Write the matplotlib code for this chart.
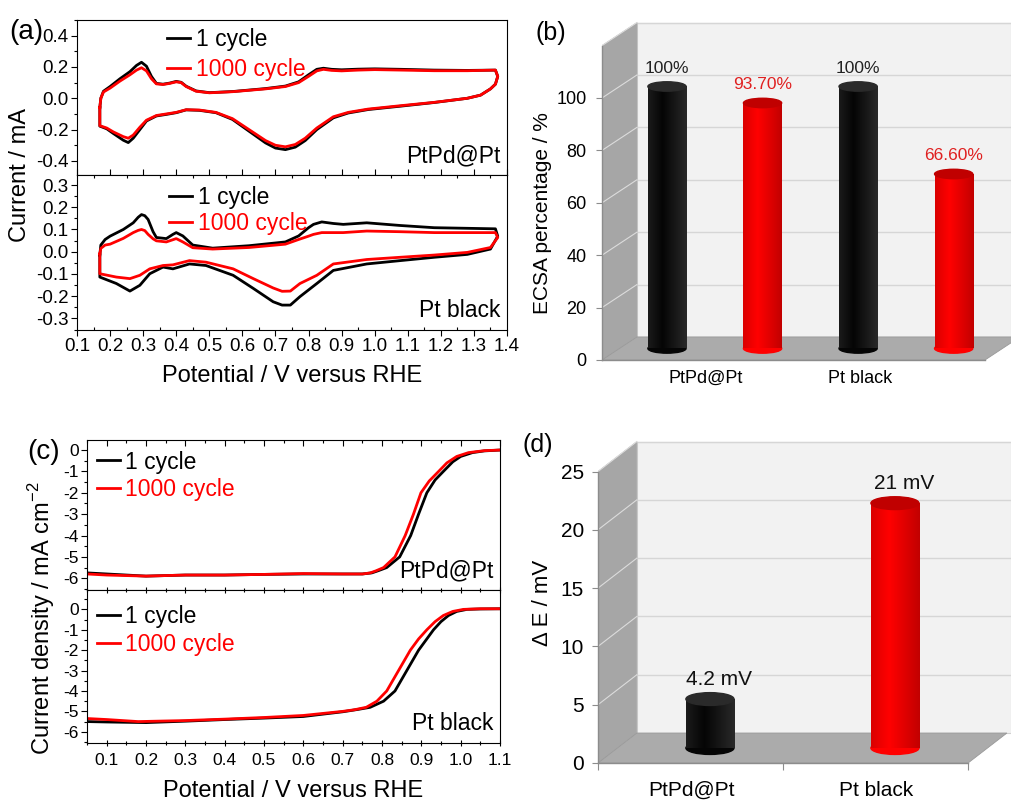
import numpy as np
import matplotlib
matplotlib.use("Agg")
import matplotlib.pyplot as plt
from matplotlib.patches import Ellipse, Polygon
from matplotlib.ticker import MultipleLocator, FormatStrFormatter

plt.rcParams['font.family'] = ['Liberation Sans', 'DejaVu Sans']
plt.rcParams['axes.unicode_minus'] = False
plt.rcParams['mathtext.fontset'] = 'custom'
plt.rcParams['mathtext.rm'] = 'Liberation Sans'

RED = '#ff0000'

# ---------------- (a) cyclic voltammetry ----------------
# PtPd@Pt
cv1_E_up = [0.169, 0.172, 0.18, 0.20, 0.23, 0.26, 0.28, 0.295, 0.31, 0.325, 0.34, 0.36, 0.38, 0.40, 0.415,
            0.43, 0.46, 0.50, 0.57, 0.67, 0.73, 0.77, 0.80, 0.825, 0.845, 0.87, 0.90, 0.95, 1.00, 1.08,
            1.18, 1.28, 1.365, 1.372]
cv1_black_up = [-0.06, 0.0, 0.045, 0.075, 0.125, 0.17, 0.21, 0.23, 0.205, 0.14, 0.095, 0.09, 0.097, 0.108, 0.102,
                0.077, 0.047, 0.036, 0.043, 0.062, 0.078, 0.105, 0.15, 0.185, 0.192, 0.185, 0.182, 0.186, 0.188, 0.185,
                0.18, 0.178, 0.18, 0.14]
cv1_red_up = [-0.06, 0.0, 0.04, 0.065, 0.11, 0.15, 0.18, 0.195, 0.175, 0.125, 0.092, 0.088, 0.095, 0.105, 0.1,
              0.075, 0.045, 0.035, 0.042, 0.06, 0.075, 0.1, 0.14, 0.175, 0.185, 0.178, 0.175, 0.18, 0.183, 0.18,
              0.176, 0.176, 0.18, 0.14]
cv1_E_dn = [1.372, 1.365, 1.35, 1.32, 1.28, 1.18, 1.08, 0.98, 0.92, 0.875, 0.825, 0.79, 0.76, 0.73, 0.70,
            0.67, 0.62, 0.57, 0.52, 0.47, 0.43, 0.40, 0.37, 0.34, 0.31, 0.29, 0.27, 0.255, 0.24, 0.21,
            0.19, 0.169, 0.169]
cv1_black_dn = [0.14, 0.09, 0.06, 0.02, 0.0, -0.027, -0.05, -0.072, -0.094, -0.125, -0.2, -0.27, -0.312, -0.328, -0.318,
                -0.285, -0.21, -0.135, -0.092, -0.077, -0.074, -0.092, -0.103, -0.113, -0.145, -0.2, -0.255, -0.283, -0.268, -0.225,
                -0.195, -0.178, -0.06]
cv1_red_dn = [0.14, 0.09, 0.06, 0.02, 0.0, -0.026, -0.047, -0.069, -0.09, -0.118, -0.19, -0.255, -0.295, -0.31, -0.3,
              -0.27, -0.2, -0.13, -0.09, -0.075, -0.073, -0.09, -0.1, -0.11, -0.14, -0.185, -0.235, -0.255, -0.245, -0.215,
              -0.19, -0.175, -0.06]

# Pt black
cv2_E_up = [0.169, 0.172, 0.185, 0.20, 0.24, 0.27, 0.285, 0.295, 0.305, 0.315, 0.33, 0.34, 0.37, 0.39, 0.40, 0.42, 0.45, 0.51, 0.62,
            0.73, 0.77, 0.80, 0.815, 0.84, 0.875, 0.905, 0.976, 1.077, 1.18, 1.365, 1.372]
cv2_black_up = [-0.015, 0.03, 0.055, 0.07, 0.1, 0.13, 0.155, 0.167, 0.162, 0.145, 0.09, 0.064, 0.059, 0.078, 0.086, 0.071, 0.03, 0.016, 0.027,
                0.044, 0.071, 0.108, 0.123, 0.134, 0.127, 0.123, 0.13, 0.118, 0.108, 0.103, 0.07]
cv2_red_up = [-0.01, 0.015, 0.03, 0.034, 0.06, 0.086, 0.096, 0.1, 0.095, 0.078, 0.058, 0.049, 0.044, 0.054, 0.059, 0.044, 0.018, 0.012, 0.019,
              0.034, 0.055, 0.07, 0.078, 0.086, 0.086, 0.086, 0.093, 0.09, 0.086, 0.086, 0.064]
cv2_E_dn = [1.372, 1.35, 1.28, 1.18, 1.077, 0.976, 0.875, 0.825, 0.774, 0.745, 0.72, 0.693, 0.633, 0.572, 0.49,
            0.44, 0.39, 0.36, 0.32, 0.29, 0.26, 0.219, 0.169, 0.169]
cv2_black_dn = [0.07, 0.012, -0.012, -0.025, -0.04, -0.055, -0.084, -0.143, -0.202, -0.24, -0.24, -0.225, -0.165, -0.106, -0.062,
                -0.055, -0.077, -0.069, -0.099, -0.151, -0.177, -0.143, -0.114, -0.015]
cv2_red_dn = [0.064, 0.019, -0.003, -0.015, -0.025, -0.035, -0.055, -0.106, -0.143, -0.177, -0.178, -0.163, -0.121, -0.077, -0.047,
              -0.04, -0.059, -0.062, -0.077, -0.106, -0.121, -0.114, -0.099, -0.01]

# ---------------- (b) ECSA retention ----------------
ecsa_cats = ['PtPd@Pt', 'Pt black']
ecsa_1 = [100, 100]
ecsa_1000 = [93.7, 66.6]
ecsa_1_txt = ['100%', '100%']
ecsa_1000_txt = ['93.70%', '66.60%']

# ---------------- (c) ORR polarisation ----------------
lsv1_E_black = [0.05, 0.1, 0.2, 0.3, 0.4, 0.5, 0.6, 0.7, 0.75, 0.774, 0.79, 0.812, 0.845, 0.873, 0.893, 0.914,
                0.935, 0.956, 0.98, 1.0, 1.03, 1.06, 1.1]
lsv1_j_black = [-5.75, -5.8, -5.9, -5.85, -5.85, -5.82, -5.8, -5.8, -5.8, -5.75, -5.65, -5.5, -5.0, -4.0, -3.0, -2.0,
                -1.4, -1.0, -0.55, -0.3, -0.12, -0.04, 0.0]
lsv1_E_red = [0.05, 0.1, 0.2, 0.3, 0.4, 0.5, 0.6, 0.7, 0.75, 0.77, 0.785, 0.804, 0.833, 0.859, 0.88, 0.899,
              0.92, 0.944, 0.965, 0.99, 1.02, 1.06, 1.1]
lsv1_j_red = [-5.8, -5.85, -5.9, -5.85, -5.85, -5.82, -5.78, -5.8, -5.8, -5.75, -5.65, -5.5, -5.0, -4.0, -3.0, -2.0,
              -1.45, -1.0, -0.6, -0.3, -0.12, -0.03, 0.0]
lsv2_E_black = [0.05, 0.1, 0.2, 0.3, 0.4, 0.5, 0.6, 0.7, 0.74, 0.77, 0.804, 0.833, 0.863, 0.893, 0.912, 0.931,
                0.95, 0.969, 0.99, 1.016, 1.05, 1.1]
lsv2_j_black = [-5.5, -5.52, -5.55, -5.48, -5.4, -5.33, -5.25, -5.02, -4.9, -4.8, -4.5, -4.0, -3.0, -2.0, -1.5, -1.0,
                -0.6, -0.3, -0.1, 0.0, 0.02, 0.03]
lsv2_E_red = [0.05, 0.1, 0.18, 0.3, 0.4, 0.5, 0.6, 0.7, 0.73, 0.76, 0.787, 0.812, 0.842, 0.872, 0.893, 0.914,
              0.935, 0.956, 0.98, 1.007, 1.05, 1.1]
lsv2_j_red = [-5.35, -5.4, -5.5, -5.45, -5.38, -5.3, -5.2, -5.0, -4.92, -4.8, -4.5, -4.0, -3.0, -2.0, -1.45, -1.0,
              -0.6, -0.3, -0.1, 0.0, 0.03, 0.03]

# ---------------- (d) half-wave potential loss ----------------
dE_cats = ['PtPd@Pt', 'Pt black']
dE_vals = [4.2, 21]
dE_txt = ['4.2 mV', '21 mV']


fig = plt.figure(figsize=(10.11, 8.01), dpi=100)
W, H = 1011.0, 801.0


def px_axes(l, t, r, b):
    return fig.add_axes([l / W, 1 - b / H, (r - l) / W, (b - t) / H])


def cv_panel(ax, E_up, up_b, up_r, E_dn, dn_b, dn_r, ylim, major, minor, name):
    ax.plot(E_up + E_dn, up_b + dn_b, color='black', lw=2.0, solid_joinstyle='round')
    ax.plot(E_up + E_dn, up_r + dn_r, color=RED, lw=2.0, solid_joinstyle='round')
    ax.set_xlim(0.1, 1.4)
    ax.set_ylim(*ylim)
    ax.xaxis.set_major_locator(MultipleLocator(0.1))
    ax.xaxis.set_minor_locator(MultipleLocator(0.05))
    ax.yaxis.set_major_locator(MultipleLocator(major))
    ax.yaxis.set_minor_locator(MultipleLocator(minor))
    ax.yaxis.set_major_formatter(FormatStrFormatter('%.1f'))
    ax.xaxis.set_major_formatter(FormatStrFormatter('%.1f'))
    ax.tick_params(which='both', direction='out', width=0.8, labelsize=13.5, pad=2)
    ax.tick_params(which='major', length=4)
    ax.tick_params(which='minor', length=2.5)
    ax.text(0.985, 0.05, name, transform=ax.transAxes, ha='right', va='bottom', fontsize=16.5)


# (a)
ax_a1 = px_axes(77, 20, 507, 175)
ax_a2 = px_axes(77, 175, 507, 330)
cv_panel(ax_a1, cv1_E_up, cv1_black_up, cv1_red_up, cv1_E_dn, cv1_black_dn, cv1_red_dn,
         (-0.49, 0.5), 0.2, 0.1, 'PtPd@Pt')
cv_panel(ax_a2, cv2_E_up, cv2_black_up, cv2_red_up, cv2_E_dn, cv2_black_dn, cv2_red_dn,
         (-0.352, 0.345), 0.1, 0.05, 'Pt black')
ax_a1.tick_params(axis='x', which='both', bottom=False, labelbottom=False)
ax_a2.tick_params(axis='x', which='both', top=True, direction='in')
ax_a2.tick_params(axis='x', which='major', direction='out')
ax_a1.legend(['1 cycle', '1000 cycle'], loc='upper left', bbox_to_anchor=(0.21, 0.95),
             frameon=False, fontsize=16.5, handlelength=1.0, handletextpad=0.25,
             labelspacing=0.3, borderpad=0, borderaxespad=0, labelcolor='linecolor')
ax_a2.legend(['1 cycle', '1000 cycle'], loc='upper left', bbox_to_anchor=(0.215, 0.93),
             frameon=False, fontsize=16.5, handlelength=1.0, handletextpad=0.25,
             labelspacing=0.12, borderpad=0, borderaxespad=0, labelcolor='linecolor')
ax_a2.set_xlabel('Potential / V versus RHE', fontsize=17, labelpad=7)
fig.text(20 / W, 1 - 175 / H, 'Current / mA', rotation=90, ha='center', va='center', fontsize=17)
fig.text(26 / W, 1 - 32 / H, '(a)', ha='center', va='center', fontsize=20)


# (c)
def lsv_panel(ax, Eb, jb, Er, jr, ylim, name, legend_top):
    ax.plot(Eb, jb, color='black', lw=2.0)
    ax.plot(Er, jr, color=RED, lw=2.0)
    ax.set_xlim(0.05, 1.1)
    ax.set_ylim(*ylim)
    ax.xaxis.set_major_locator(MultipleLocator(0.1))
    ax.xaxis.set_minor_locator(MultipleLocator(0.05))
    ax.yaxis.set_major_locator(MultipleLocator(1))
    ax.yaxis.set_minor_locator(MultipleLocator(0.5))
    ax.yaxis.set_major_formatter(FormatStrFormatter('%d'))
    ax.xaxis.set_major_formatter(FormatStrFormatter('%.1f'))
    ax.tick_params(which='both', direction='out', width=0.8, labelsize=12.5, pad=2)
    ax.tick_params(axis='x', which='both', top=True, direction='in')
    ax.tick_params(which='major', length=4)
    ax.tick_params(which='minor', length=2.5)
    ax.legend(['1 cycle', '1000 cycle'], loc='upper left', bbox_to_anchor=(0.025, legend_top),
              frameon=False, fontsize=16.5, handlelength=1.0, handletextpad=0.2,
              labelspacing=0.2, borderpad=0, borderaxespad=0, labelcolor='linecolor')
    ax.text(0.985, 0.05, name, transform=ax.transAxes, ha='right', va='bottom', fontsize=16.5)


ax_c1 = px_axes(87, 440, 500, 590)
ax_c2 = px_axes(87, 590, 500, 743)
lsv_panel(ax_c1, lsv1_E_black, lsv1_j_black, lsv1_E_red, lsv1_j_red, (-6.55, 0.47), 'PtPd@Pt', 0.93)
lsv_panel(ax_c2, lsv2_E_black, lsv2_j_black, lsv2_E_red, lsv2_j_red, (-6.55, 0.95), 'Pt black', 0.9)
ax_c1.tick_params(axis='x', which='both', bottom=False, labelbottom=False)
ax_c2.tick_params(axis='x', which='both', bottom=True)
ax_c2.xaxis.set_tick_params(which='both', direction='inout')
ax_c2.tick_params(axis='x', pad=5)
ax_c2.set_xlabel('Potential / V versus RHE', fontsize=17, labelpad=9)
fig.text(42 / W, 1 - 618 / H, 'Current density / mA cm$^{-2}$', rotation=90, ha='center', va='center',
         fontsize=17)
fig.text(44 / W, 1 - 452 / H, '(c)', ha='center', va='center', fontsize=20)


# pseudo-3D cylinder bars for (b) and (d)
def bars_3d(ax, xs, vals, colors, caps, width, dx, dy, wall_top, step, x_floor, cap_h):
    x0, xr = ax.get_xlim()
    ax.add_patch(Polygon([(x0 + dx, dy), (xr, dy), (xr, wall_top + dy), (x0 + dx, wall_top + dy)],
                         closed=True, fc='#f2f2f2', ec='#d0d0d0', lw=0.8, zorder=0.2))
    for v in np.arange(step, wall_top + step / 2, step):
        ax.plot([x0 + dx, xr], [v + dy, v + dy], color='#d6d6d6', lw=1.0, zorder=0.5)
    ax.add_patch(Polygon([(x0, 0), (x0, wall_top), (x0 + dx, wall_top + dy), (x0 + dx, dy)],
                         closed=True, fc='#a6a6a6', ec='#a6a6a6', lw=0.5, zorder=1))
    for v in np.arange(step, wall_top + step / 2, step):
        ax.plot([x0, x0 + dx], [v, v + dy], color='#dcdcdc', lw=0.8, zorder=1.5)
    ax.add_patch(Polygon([(x0, 0), (x_floor, 0), (x_floor + dx, dy), (x0 + dx, dy)],
                         closed=True, fc='#ababab', ec='#999999', lw=0.6, zorder=1))
    bars = ax.bar(xs, vals, width, bottom=dy / 2, color=colors, zorder=3)
    grad = np.abs(np.linspace(-1, 1, 64) + 0.25).reshape(1, -1)
    for b, x, v, c, cc in zip(bars, xs, vals, colors, caps):
        ax.add_patch(Ellipse((x, dy / 2), width, cap_h, color=c, zorder=3))
        cmap = matplotlib.colors.LinearSegmentedColormap.from_list('cyl', [c, cc])
        im = ax.imshow(grad, extent=(x - width / 2, x + width / 2, dy / 2, dy / 2 + v), cmap=cmap,
                       aspect='auto', zorder=3.2, vmin=0, vmax=1.3)
        im.set_clip_path(b)
        ax.add_patch(Ellipse((x, dy / 2 + v), width, cap_h, color=cc, zorder=4))
    ax.set_xlim(x0, xr)
    ax.spines['top'].set_visible(False)
    ax.spines['right'].set_visible(False)
    ax.spines['left'].set_bounds(0, wall_top)
    ax.spines['bottom'].set_bounds(x0, x_floor)
    for s in ('left', 'bottom'):
        ax.spines[s].set_color('#8c8c8c')
        ax.spines[s].set_linewidth(1.0)
    ax.set_facecolor('none')


# (b)
ax_b = px_axes(602, 10, 1011, 360)
ax_b.set_xlim(-0.59, 1.55)
ax_b.set_ylim(0, 350 / 2.62)
grp = np.arange(len(ecsa_cats))
xs_b = np.ravel(np.column_stack([grp - 0.25, grp + 0.25]))
vals_b = np.ravel(np.column_stack([ecsa_1, ecsa_1000]))
txt_b = np.ravel(np.column_stack([ecsa_1_txt, ecsa_1000_txt]))
cols_b = ['#050505', RED] * len(ecsa_cats)
caps_b = ['#2a2a2a', '#c00000'] * len(ecsa_cats)
bars_3d(ax_b, xs_b, vals_b, cols_b, caps_b, 0.2, 0.183, 8.8, 120, 20, 1.414, 3.6)
for x, v, t, c in zip(xs_b, vals_b, txt_b, cols_b):
    ax_b.text(x, v + 8.8 / 2 + 4.0, t, ha='center', va='bottom', fontsize=12.5,
              color='#222222' if c != RED else '#e02020')
ax_b.set_yticks(np.arange(0, 101, 20))
ax_b.tick_params(axis='y', length=4, color='#8c8c8c', labelsize=13, pad=7)
ax_b.set_xticks(grp - 0.05 - 0.19 * grp, ecsa_cats)
ax_b.tick_params(axis='x', length=0, labelsize=13, pad=7)
fig.text(543 / W, 1 - 213 / H, 'ECSA percentage / %', rotation=90, ha='center', va='center', fontsize=15)
fig.text(551 / W, 1 - 33 / H, '(b)', ha='center', va='center', fontsize=18)

# (d)
ax_d = px_axes(598, 430, 1011, 763)
ax_d.set_xlim(-0.605, 1.627)
ax_d.set_ylim(0, 333 / 11.66)
xs_d = np.arange(len(dE_cats))
bars_3d(ax_d, xs_d, dE_vals, ['#050505', RED], ['#2a2a2a', '#c00000'], 0.26, 0.21, 2.57, 25, 5, 1.395, 1.1)
for x, v, t in zip(xs_d, dE_vals, dE_txt):
    ax_d.text(x + 0.05, v + 2.57 / 2 + 0.9, t, ha='center', va='bottom', fontsize=15, color='#111111')
ax_d.set_yticks(np.arange(0, 26, 5))
ax_d.tick_params(axis='y', length=4, color='#8c8c8c', labelsize=15, pad=6)
ax_d.set_xticks(np.arange(len(dE_cats) + 1) - 0.605)
ax_d.set_xticklabels([])
ax_d.tick_params(axis='x', length=5, color='#8c8c8c')
ax_d.set_xticks(xs_d - 0.1, dE_cats, minor=True)
ax_d.tick_params(axis='x', which='minor', length=0, labelsize=15, pad=13)
fig.text(543 / W, 1 - 603 / H, '\u0394 E / mV', rotation=90, ha='center', va='center', fontsize=16)
fig.text(538 / W, 1 - 445 / H, '(d)', ha='center', va='center', fontsize=18)

fig.savefig('out.png', dpi=100)
